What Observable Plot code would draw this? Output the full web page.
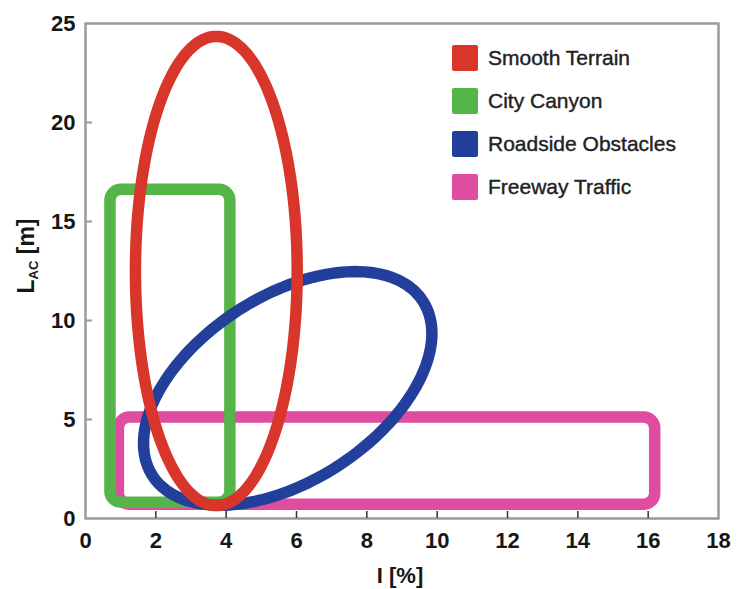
<!DOCTYPE html>
<html><head><meta charset="utf-8">
<script src="https://cdn.jsdelivr.net/npm/d3@7"></script>
<script src="https://cdn.jsdelivr.net/npm/@observablehq/plot@0.6"></script>
<style>
body{margin:0;background:#fff;}
#chart{width:737px;height:589px;}
</style></head><body><div id="chart"></div>
<script>
// Legend categories and colours
const categories = ["Smooth Terrain", "City Canyon", "Roadside Obstacles", "Freeway Traffic"];
const colors = ["#d8362b", "#55b548", "#22409b", "#e04ca0"];

// Rounded-rectangle regions (I [%] range, L_AC [m] range)
const rectNames = ["Freeway Traffic", "City Canyon"];
const rectX1 = [0.95, 0.71];
const rectX2 = [16.2, 4.12];
const rectY1 = [0.7, 0.8];
const rectY2 = [5.1, 16.6];

// Elliptical regions: centre, half-width in I, half-height in L_AC, phase (deg) between x and y
const ellipseNames = ["Roadside Obstacles", "Smooth Terrain"];
const ellipseCx = [5.75, 3.72];
const ellipseCy = [6.57, 12.5];
const ellipseHalfX = [4.1, 2.3];
const ellipseHalfY = [5.9, 11.85];
const ellipsePhase = [62, 90];

// Axis ticks
const xTicks = [0, 2, 4, 6, 8, 10, 12, 14, 16, 18];
const yTicks = [0, 5, 10, 15, 20, 25];

const W = 737, H = 589, mL = 85, mR = 19, mT = 23, mB = 71;
const plotW = W - mL - mR, plotH = H - mT - mB, tickLen = 7;

const colorOf = name => colors[categories.indexOf(name)];

const rectMarks = rectNames.map((n, i) =>
  Plot.rect([{x1: rectX1[i], x2: rectX2[i], y1: rectY1[i], y2: rectY2[i]}],
    {x1: "x1", x2: "x2", y1: "y1", y2: "y2", fill: "none", stroke: colorOf(n), strokeWidth: 11.5, rx: 11})
);

function ellipseOutline(i) {
  const pts = [];
  const ph = ellipsePhase[i] * Math.PI / 180;
  for (let a = 0; a < 360; a += 2) {
    const t = a * Math.PI / 180;
    pts.push({x: ellipseCx[i] + ellipseHalfX[i] * Math.cos(t), y: ellipseCy[i] + ellipseHalfY[i] * Math.cos(t - ph)});
  }
  return pts;
}
const ellipseMarks = ellipseNames.map((n, i) =>
  Plot.line(ellipseOutline(i), {x: "x", y: "y", stroke: colorOf(n), strokeWidth: 11.5, curve: "linear-closed"})
);

const plot = Plot.plot({
  width: W, height: H,
  marginLeft: mL, marginRight: mR, marginTop: mT, marginBottom: mB,
  x: {domain: [0, 18], label: null},
  y: {domain: [0, 25], label: null},
  style: {fontFamily: "'Liberation Sans', Arial, sans-serif", fontSize: "22px", fontWeight: "bold", color: "#161616", background: "#fff"},
  marks: [
    rectMarks[0], rectMarks[1], ellipseMarks[0], ellipseMarks[1],
    Plot.frame({stroke: "#9a9a9a", strokeWidth: 2.5}),
    Plot.tickX(xTicks.slice(1, -1), {x: d => d, insetTop: plotH - tickLen, stroke: "#333", strokeWidth: 1.5}),
    Plot.tickY(yTicks.slice(1, -1), {y: d => d, insetRight: plotW - tickLen, stroke: "#999", strokeWidth: 2}),
    Plot.axisX({ticks: xTicks, tickSize: 0, tickPadding: 14}),
    Plot.axisY({ticks: yTicks, tickSize: 0, tickPadding: 10})
  ]
});

const svg = d3.select(plot);
// axis titles
svg.append("text").attr("x", 400).attr("y", 583).attr("text-anchor", "middle")
  .attr("font-size", 22).attr("font-weight", "bold").attr("fill", "#161616").text("I [%]");
const yt = svg.append("text").attr("transform", "translate(34,256) rotate(-90)").attr("text-anchor", "middle")
  .attr("font-size", 23).attr("font-weight", "bold").attr("fill", "#161616");
yt.append("tspan").text("L");
yt.append("tspan").attr("font-size", 13).attr("dy", 4).text("AC");
yt.append("tspan").attr("dy", -4).text(" [m]");

// legend
const lg = svg.append("g").attr("font-size", 21).attr("font-weight", "normal").attr("fill", "#222")
  .attr("stroke", "#222").attr("stroke-width", 0.4).attr("text-anchor", "start");
categories.forEach((c, i) => {
  const y0 = 45 + i * 43;
  lg.append("rect").attr("x", 452).attr("y", y0).attr("width", 26).attr("height", 26).attr("rx", 2)
    .attr("fill", colors[i]).attr("stroke", "none");
  lg.append("text").attr("x", 488).attr("y", y0 + 13).attr("dy", "0.35em").text(c);
});

document.getElementById("chart").appendChild(plot);
</script></body></html>
